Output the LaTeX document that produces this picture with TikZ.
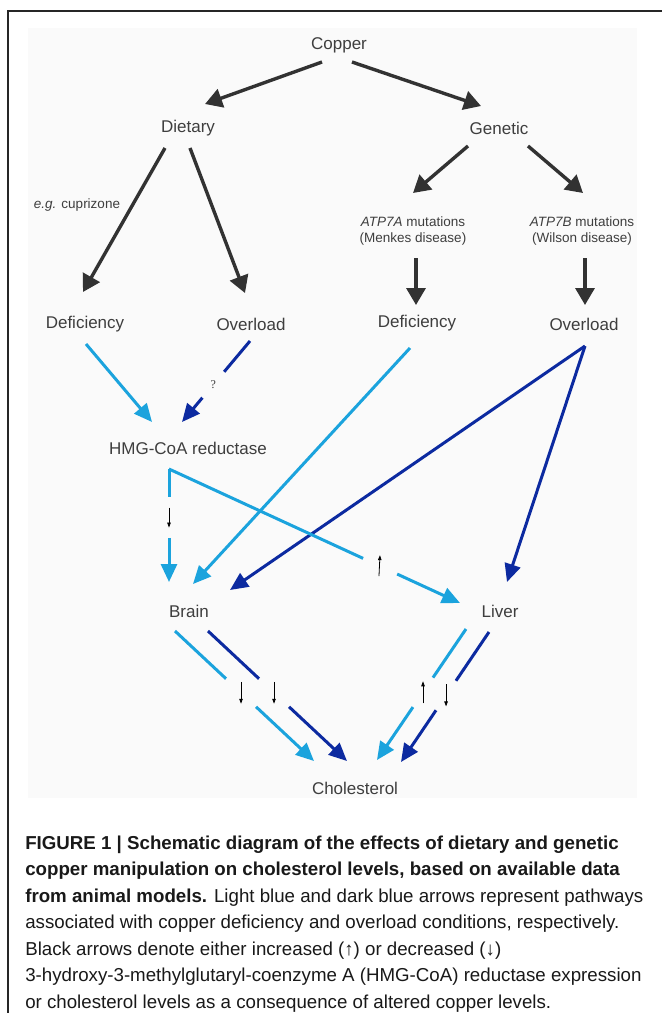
\documentclass[tikz,border=0pt]{standalone}
\usepackage{fontspec}
\setmainfont{Liberation Sans}
\newfontfamily\qfont{Liberation Serif}
\usetikzlibrary{arrows.meta,positioning,calc}
\definecolor{lightb}{RGB}{27,163,221}
\definecolor{darkb}{RGB}{12,42,160}
\definecolor{arrgray}{RGB}{50,50,50}
\definecolor{txtgray}{RGB}{62,62,62}
\definecolor{panel}{RGB}{250,250,250}

\begin{document}
\begin{tikzpicture}[x=1pt,y=-1pt,semithick]
	\tikzstyle{every node}=[inner sep=0pt,text=txtgray,font=\fontsize{17}{20}\selectfont]
	\tikzstyle{lab}=[anchor=base]
	\tikzstyle{small}=[font=\fontsize{13.5}{16}\selectfont,align=center]
	\tikzstyle{capline}=[anchor=base west,text=black!90,font=\fontsize{18.7}{21}\selectfont]
	\tikzstyle{blk}=[draw=arrgray,line width=3.4pt,-{Triangle[length=17pt,width=19pt]}]
	\tikzstyle{lb}=[draw=lightb,line width=3pt]
	\tikzstyle{db}=[draw=darkb,line width=3pt]
	\tikzstyle{tip}=[-{Triangle[length=18pt,width=16pt]}]
	\tikzstyle{tick}=[draw=black,line width=.8pt,-{Triangle[length=5pt,width=3.5pt]}]
	
	% page, frame and panel
	\useasboundingbox (0,0) rectangle (662,1013);
	\fill[white] (0,0) rectangle (662,1013);
	\fill[panel] (28,28) rectangle (637,798);
	\draw[line width=1.4pt,black!85] (8,1013) -- (8,11) -- (662,11);
	
	\node[lab] (cu) at (339,49) {Copper};
	\node[lab] (diet) at (188,132) {Dietary};
	\node[lab] (gen) at (499,134) {Genetic};
	\node[small,anchor=base] (cupri) at (77,208) {\textit{e.g.} cuprizone};
	\node[small] (atpA) at (413,231) {\textit{ATP7A} mutations\\(Menkes disease)};
	\node[small] (atpB) at (582,231) {\textit{ATP7B} mutations\\(Wilson disease)};
	\node[lab] (defL) at (85,328) {Deficiency};
	\node[lab] (ovL) at (251,330) {Overload};
	\node[lab] (defR) at (417,327) {Deficiency};
	\node[lab] (ovR) at (584,330) {Overload};
	\node[lab] (hmg) at (188,454) {HMG-CoA reductase};
	\node[lab] (brain) at (189,617) {Brain};
	\node[lab] (liver) at (500,617) {Liver};
	\node[lab] (chol) at (355,794) {Cholesterol};
	
	% black arrows
	\draw[blk] ([xshift=-17pt,yshift=-13pt]cu.base) -- ([xshift=17pt,yshift=28pt]diet.base);
	\draw[blk] ([xshift=13pt,yshift=-13pt]cu.base) -- ([xshift=-18pt,yshift=28pt]gen.base);
	\draw[blk] ([xshift=-23pt,yshift=-16pt]diet.base) -- ([xshift=-2pt,yshift=36pt]defL.base);
	\draw[blk] ([xshift=2pt,yshift=-16pt]diet.base) -- ([xshift=-6pt,yshift=37pt]ovL.base);
	\draw[blk] ([xshift=-31pt,yshift=-12pt]gen.base) -- ([yshift=38pt]atpA.center);
	\draw[blk] ([xshift=29pt,yshift=-12pt]gen.base) -- ([xshift=1pt,yshift=38pt]atpB.center);
	\draw[blk] ([xshift=3pt,yshift=-27pt]atpA.center) -- ([xshift=-1pt,yshift=22pt]defR.base);
	\draw[blk] ([xshift=3pt,yshift=-27pt]atpB.center) -- ([xshift=1pt,yshift=25pt]ovR.base);
	
	% deficiency / overload towards HMG-CoA reductase
	\draw[lb,tip] ([xshift=1pt,yshift=-16pt]defL.base) -- ([xshift=-36pt,yshift=32pt]hmg.base);
	\coordinate (o1) at ([xshift=-1pt,yshift=-11pt]ovL.base);
	\coordinate (h1) at ([xshift=-6pt,yshift=32pt]hmg.base);
	\draw[db] (o1) -- ($(o1)!.38!(h1)$);
	\draw[db,tip] ($(o1)!.70!(h1)$) -- (h1);
	\node[font=\qfont\fontsize{12}{14}\selectfont] (qm) at ($(o1)!.54!(h1)$) {?};
	
	% genetic pathways
	\draw[lb,tip] ([xshift=-7pt,yshift=-21pt]defR.base) -- ([xshift=4pt,yshift=33pt]brain.base);
	\draw[db,tip] ([xshift=1pt,yshift=-16pt]ovR.base) -- ([xshift=41pt,yshift=27pt]brain.base);
	\draw[db,tip] ([xshift=1pt,yshift=-16pt]ovR.base) -- ([xshift=7pt,yshift=35pt]liver.base);
	
	% HMG-CoA reductase to brain and liver
	\coordinate (h0) at ([xshift=-19pt,yshift=-15pt]hmg.base);
	\coordinate (b1) at ([xshift=-20pt,yshift=35pt]brain.base);
	\coordinate (l1) at ([xshift=-40pt,yshift=14pt]liver.base);
	\draw[lb] (h0) -- ($(h0)!.25!(b1)$);
	\draw[lb,tip] ($(h0)!.61!(b1)$) -- (b1);
	\draw[tick] ($(h0)!.43!(b1)+(0,-10)$) -- ($(h0)!.43!(b1)+(0,10)$);
	\draw[lb] (h0) -- ($(h0)!.667!(l1)$);
	\draw[lb,tip] ($(h0)!.784!(l1)$) -- (l1);
	\draw[tick] ($(h0)!.725!(l1)+(-1,10)$) -- ($(h0)!.725!(l1)+(0,-11)$);
	
	% brain and liver to cholesterol
	\coordinate (b2) at ([xshift=-14pt,yshift=-14pt]brain.base);
	\coordinate (b3) at ([xshift=19pt,yshift=-14pt]brain.base);
	\coordinate (l2) at ([xshift=-34pt,yshift=-12pt]liver.base);
	\coordinate (l3) at ([xshift=-11pt,yshift=-15pt]liver.base);
	\coordinate (c1) at ([xshift=-41pt,yshift=33pt]chol.base);
	\coordinate (c2) at ([xshift=-8pt,yshift=33pt]chol.base);
	\coordinate (c3) at ([xshift=22pt,yshift=34pt]chol.base);
	\coordinate (c4) at ([xshift=46pt,yshift=32pt]chol.base);
	\draw[lb] (b2) -- ($(b2)!.367!(c1)$);
	\draw[lb,tip] ($(b2)!.583!(c1)$) -- (c1);
	\draw[tick] ($(b2)!.475!(c1)+(0,-11)$) -- ($(b2)!.475!(c1)+(0,11)$);
	\draw[db] (b3) -- ($(b3)!.367!(c2)$);
	\draw[db,tip] ($(b3)!.583!(c2)$) -- (c2);
	\draw[tick] ($(b3)!.475!(c2)+(0,-11)$) -- ($(b3)!.475!(c2)+(0,11)$);
	\draw[lb] (l2) -- ($(l2)!.371!(c3)$);
	\draw[lb,tip] ($(l2)!.596!(c3)$) -- (c3);
	\draw[tick] ($(l2)!.483!(c3)+(0,11)$) -- ($(l2)!.483!(c3)+(0,-11)$);
	\draw[db] (l3) -- ($(l3)!.375!(c4)$);
	\draw[db,tip] ($(l3)!.602!(c4)$) -- (c4);
	\draw[tick] ($(l3)!.488!(c4)+(0,-11)$) -- ($(l3)!.488!(c4)+(0,11)$);
	
	% caption
	\node[capline] (cap1) at (25,849) {\textbf{FIGURE 1 | Schematic diagram of the effects of dietary and genetic}};
	\node[capline] (cap2) at (25,875.5) {\textbf{copper manipulation on cholesterol levels, based on available data}};
	\node[capline] (cap3) at (25,902) {\textbf{from animal models.} Light blue and dark blue arrows represent pathways};
	\node[capline] (cap4) at (25,928.5) {associated with copper deficiency and overload conditions, respectively.};
	\node[capline] (cap5) at (25,955) {Black arrows denote either increased (↑) or decreased (↓)};
	\node[capline] (cap6) at (25,981.5) {3-hydroxy-3-methylglutaryl-coenzyme A (HMG-CoA) reductase expression};
	\node[capline] (cap7) at (25,1008) {or cholesterol levels as a consequence of altered copper levels.};
\end{tikzpicture}
\end{document}
